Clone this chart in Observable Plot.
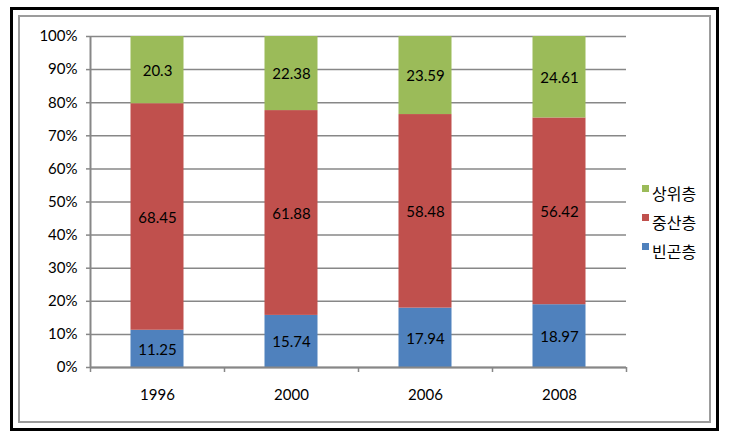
<!DOCTYPE html>
<html><head><meta charset="utf-8">
<script src="https://cdn.jsdelivr.net/npm/d3@7"></script>
<script src="https://cdn.jsdelivr.net/npm/@observablehq/plot@0.6"></script>
<style>
html,body{margin:0;padding:0;background:#fff;}
#wrap{position:relative;width:730px;height:437px;overflow:hidden;background:#fff;}
#chart{position:absolute;left:0;top:0;}
#outer{position:absolute;left:10px;top:7px;width:703px;height:418px;border:3px solid #000;pointer-events:none;}
#inner{position:absolute;left:18px;top:15px;width:689px;height:404px;border:2px solid #9c9c9c;pointer-events:none;}
#legend{position:absolute;left:642px;top:183px;font-family:"Noto Sans CJK KR",sans-serif;font-size:16px;color:#000;}
.item{display:flex;align-items:flex-start;height:29px;}
.sw{width:7px;height:7px;margin-top:2px;margin-right:3px;}
.lb{line-height:20px;margin-top:0px;}
</style>
</head><body>
<div id="wrap">
  <div id="chart"></div>
  <div id="legend"></div>
  <div id="inner"></div>
  <div id="outer"></div>
</div>
<script>
const years = ["1996", "2000", "2006", "2008"];
const seriesNames = ["빈곤층", "중산층", "상위층"];
const poor = [11.25, 15.74, 17.94, 18.97];
const middle = [68.45, 61.88, 58.48, 56.42];
const upper = [20.3, 22.38, 23.59, 24.61];
const colors = ["#4F81BD", "#C0504D", "#9BBB59"];
const yTicks = [0, 10, 20, 30, 40, 50, 60, 70, 80, 90, 100];

const values = [poor, middle, upper];
const rows = [];
years.forEach((year, i) => {
  seriesNames.forEach((s, k) => rows.push({i, year, series: s, value: values[k][i]}));
});
const boundaries = d3.range(years.length + 1);
const centers = years.map((y, i) => i + 0.5);
const gray = "#878787";

const chart = Plot.plot({
  width: 730,
  height: 437,
  marginLeft: 90,
  marginRight: 104,
  marginTop: 36,
  marginBottom: 70,
  style: {fontFamily: "Lato, sans-serif", fontSize: "15px", color: "#000", background: "transparent"},
  x: {domain: [0, years.length], axis: null, label: null},
  y: {domain: [0, 100], axis: null, label: null},
  color: {domain: seriesNames, range: colors},
  marks: [
    Plot.gridY(yTicks, {stroke: gray, strokeOpacity: 1, strokeWidth: 1.5}),
    Plot.rectY(rows, Plot.stackY({x1: "i", x2: d => d.i + 1, y: "value", fill: "series", insetLeft: 40.5, insetRight: 40.5})),
    Plot.text(rows, Plot.stackY({x: d => d.i + 0.5, y: "value", z: "series", text: d => String(d.value), fill: "#000", fontSize: 15, dy: 1})),
    Plot.ruleX([0], {stroke: gray, strokeWidth: 2}),
    Plot.ruleY([0], {stroke: gray, strokeWidth: 2}),
    Plot.axisY(yTicks, {tickSize: 4, tickPadding: 9, tickFormat: d => d + "%", stroke: gray, strokeWidth: 1.5, label: null}),
    Plot.axisX(boundaries, {tickSize: 5, tickFormat: () => "", stroke: gray, strokeWidth: 1.5, label: null}),
    Plot.axisX(centers, {tickSize: 0, tickPadding: 22, tickFormat: d => years[Math.floor(d)], label: null})
  ]
});
document.getElementById("chart").appendChild(chart);

const legend = document.getElementById("legend");
seriesNames.map((s, k) => [s, colors[k]]).reverse().forEach(([s, c]) => {
  const item = document.createElement("div");
  item.className = "item";
  const sw = document.createElement("div");
  sw.className = "sw";
  sw.style.background = c;
  const lb = document.createElement("div");
  lb.className = "lb";
  lb.textContent = s;
  item.appendChild(sw);
  item.appendChild(lb);
  legend.appendChild(item);
});
</script>
</body></html>
